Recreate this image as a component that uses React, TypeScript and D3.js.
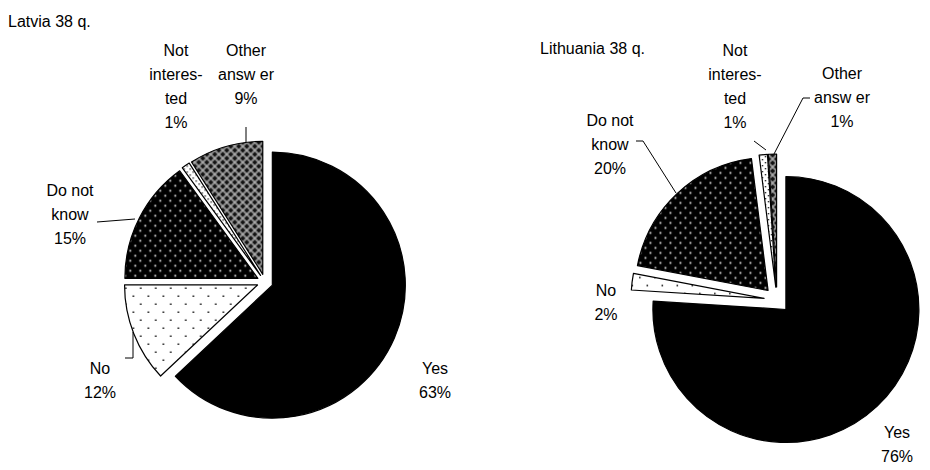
import React from 'react';
import * as d3 from 'd3';

// answer categories, same order for both countries (clockwise from 12 o'clock)
const categories = ['Yes', 'No', 'Do not know', 'Not interested', 'Other answer'];
const labelLines = [['Yes'], ['No'], ['Do not', 'know'], ['Not', 'interes-', 'ted'], ['Other', 'answ er']];
const latviaValues = [63, 12, 15, 1, 9];
const lithuaniaValues = [76, 2, 20, 1, 1];
const fills = ['#000', 'url(#pNo)', 'url(#pDk)', 'url(#pNi)', 'url(#pOther)'];

// layout: label anchors (centre x, first baseline) and leader lines
const charts = [
  {
    title: 'Latvia 38 q.', values: latviaValues, titleX: 8, titleY: 27,
    cx: 265, cy: 282, r: 133, explode: 8,
    labels: [[435, 374], [100, 374], [70, 196], [176, 56], [246, 56]],
    leaders: [null, [[125, 358], [133, 358], [133, 332]], [[97, 222], [135, 219]], null, [[246, 127], [246, 142]]],
  },
  {
    title: 'Lithuania 38 q.', values: lithuaniaValues, titleX: 540, titleY: 54,
    cx: 777, cy: 300, r: 133, explode: 13,
    labels: [[897, 438], [606, 296], [610, 126], [735, 56], [842, 79]],
    leaders: [null, null, [[636, 141], [643, 141], [676, 193]], [[754, 141], [766, 150]], [[810, 98], [803, 98], [774, 154]]],
  },
];

const PieChart = ({ chart }) => {
  const pie = d3.pie<number>().sort(null).value(d => d);
  const arcs = pie(chart.values);
  const arc = d3.arc<d3.PieArcDatum<number>>().innerRadius(0).outerRadius(chart.r);
  const line = d3.line();

  return (
    <g>
      <text x={chart.titleX} y={chart.titleY}>{chart.title}</text>
      {arcs.map((a, i) => {
        const mid = (a.startAngle + a.endAngle) / 2;
        const dx = Math.sin(mid) * chart.explode;
        const dy = -Math.cos(mid) * chart.explode;
        return (
          <path key={categories[i]}
            d={arc(a)}
            transform={`translate(${chart.cx + dx},${chart.cy + dy})`}
            fill={fills[i]} stroke="#000" strokeWidth={1.2} strokeLinejoin="round" />
        );
      })}
      {chart.leaders.map((pts, i) => pts &&
        <path key={'l' + i} d={line(pts)} fill="none" stroke="#000" strokeWidth={1} />)}
      {arcs.map((a, i) => {
        const [lx, ly] = chart.labels[i];
        const lines = [...labelLines[i], `${chart.values[i]}%`];
        return (
          <text key={'t' + i} textAnchor="middle">
            {lines.map((t, j) => <tspan key={j} x={lx} y={ly + j * 24}>{t}</tspan>)}
          </text>
        );
      })}
    </g>
  );
};

export default function App() {
  return (
    <svg width={930} height={470} style={{ position: 'absolute', left: 0, top: 0, background: '#fff' }}
      fontFamily="Arial, 'Liberation Sans', sans-serif" fontSize={16} fill="#000">
      <defs>
        <pattern id="pNo" width={15} height={16} patternUnits="userSpaceOnUse">
          <rect width={15} height={16} fill="#fff" />
          <rect x={2.5} y={2.5} width={1.5} height={1.5} fill="#000" />
          <rect x={10} y={10.5} width={1.5} height={1.5} fill="#000" />
        </pattern>
        <pattern id="pDk" width={10} height={10} patternUnits="userSpaceOnUse">
          <rect width={10} height={10} fill="#000" />
          <rect x={1.5} y={1.5} width={1.8} height={1.8} fill="#ddd" />
          <rect x={6.5} y={6.5} width={1.8} height={1.8} fill="#ddd" />
        </pattern>
        <pattern id="pNi" width={6} height={6} patternUnits="userSpaceOnUse">
          <rect width={6} height={6} fill="#fff" />
          <rect x={1} y={1} width={1.3} height={1.3} fill="#000" />
          <rect x={4} y={4} width={1.3} height={1.3} fill="#000" />
        </pattern>
        <pattern id="pOther" width={8} height={8} patternUnits="userSpaceOnUse">
          <rect width={8} height={8} fill="#8c8c8c" />
          <path d="M4,1.5 L6.5,4 L4,6.5 L1.5,4 Z" fill="#111" />
          <path d="M0,-2.5 L2.5,0 L0,2.5 L-2.5,0 Z M8,-2.5 L10.5,0 L8,2.5 L5.5,0 Z M0,5.5 L2.5,8 L0,10.5 L-2.5,8 Z M8,5.5 L10.5,8 L8,10.5 L5.5,8 Z" fill="#111" />
          <rect x={3.5} y={-0.5} width={1} height={1} fill="#fff" />
          <rect x={-0.5} y={3.5} width={1} height={1} fill="#fff" />
          <rect x={7.5} y={3.5} width={1} height={1} fill="#fff" />
          <rect x={3.5} y={7.5} width={1} height={1} fill="#fff" />
        </pattern>
      </defs>
      {charts.map(c => <PieChart key={c.title} chart={c} />)}
    </svg>
  );
}
